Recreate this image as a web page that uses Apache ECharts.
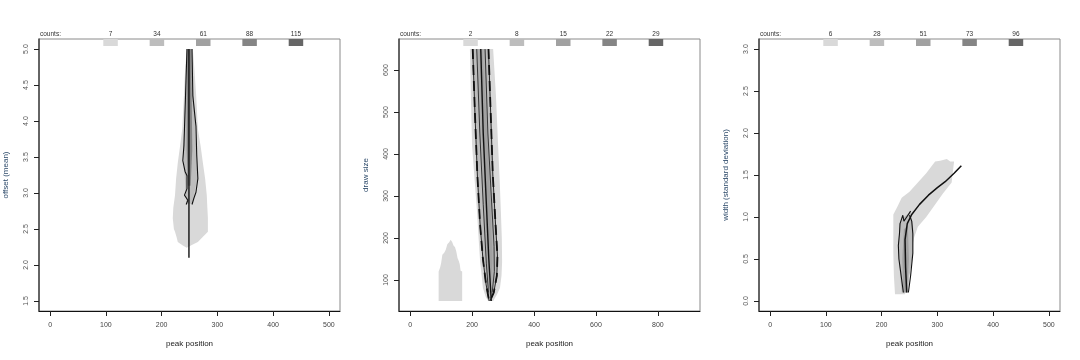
<!DOCTYPE html>
<html><head><meta charset="utf-8">
<script src="https://cdn.jsdelivr.net/npm/echarts@6/dist/echarts.min.js"></script>
<style>html,body{margin:0;padding:0;background:#fff}#c{width:1080px;height:360px}</style>
</head><body><div id="c"></div>
<script>
// ---- legend counts ----
const counts1 = [7, 34, 61, 88, 115];
const counts2 = [2, 8, 15, 22, 29];
const counts3 = [6, 28, 51, 73, 96];
const countColors = ['#d9d9d9', '#bdbdbd', '#a1a1a1', '#858585', '#666666'];

// ---- tick labels ----
const xTicks1 = [0, 100, 200, 300, 400, 500];
const yTicks1 = [1.5, 2.0, 2.5, 3.0, 3.5, 4.0, 4.5, 5.0];
const xTicks2 = [0, 200, 400, 600, 800];
const yTicks2 = [100, 200, 300, 400, 500, 600];
const xTicks3 = [0, 100, 200, 300, 400, 500];
const yTicks3 = [0.0, 0.5, 1.0, 1.5, 2.0, 2.5, 3.0];

// ---- panel 1: offset (mean) vs peak position ----
const p1Light = [[245,5.0],[242,4.7],[240,4.35],[237,3.89],[233,3.65],[229,3.42],[226,3.2],[224,2.97],[221,2.8],[220,2.65],[222,2.5],[224,2.46],[227,2.38],[229,2.32],[238,2.27],[245,2.24],[255,2.28],[265,2.32],[275,2.4],[283,2.46],[283,2.65],[282,2.8],[281,2.97],[278,3.2],[274,3.42],[270,3.65],[265,3.89],[262,4.35],[259,4.7],[256,5.0]];
const p1Mid = [[245,5.0],[243,4.5],[241,4.0],[239,3.6],[241,3.3],[243,3.0],[245,2.85],[254,2.85],[259,3.0],[264,3.2],[262,3.6],[260,4.0],[256,4.5],[254,5.0]];
const p1Dark = [[246,5.0],[245,4.3],[245,3.6],[247,3.1],[252,3.1],[255,3.6],[254,4.3],[253,5.0]];
const p1Center = [[249,5.0],[249,4.0],[249,3.0],[249,2.1]];
const p1Left = [[245.5,5.0],[243.7,4.56],[242,4.14],[240,3.66],[238,3.45],[242,3.3],[245.5,3.24],[245.5,3.06],[241,2.97],[247,2.9],[244,2.84]];
const p1Right = [[254.5,5.0],[256,4.35],[261.6,3.93],[263,3.52],[265,3.2],[261.6,3.01],[258,2.93],[254.5,2.84]];

// ---- panel 2: draw size vs peak position ----
const p2Light = [[193,650],[196,540],[200,420],[208,340],[216,262],[221,200],[226,143],[231,110],[235,81],[244,60],[252,50],[268,50],[280,65],[290,81],[295,110],[297,143],[296,200],[293,262],[289,340],[284,421],[277,540],[268,650]];
const p2Mid = [[202,650],[209,500],[217,350],[226,230],[235,150],[245,90],[255,50],[258,50],[270,70],[280,110],[282,157],[276,230],[267,350],[260,500],[253,650]];
const p2Dark = [[215,650],[225,450],[236,280],[246,140],[253,70],[262,60],[272,120],[271,180],[262,300],[251,450],[242,650]];
const p2Core = [[224,650],[232,450],[241,300],[250,150],[258,60],[266,150],[258,300],[249,450],[233,650]];
const p2Blob = [[92,50],[92,120],[97,130],[100,140],[104,160],[110,165],[115,172],[120,185],[126,190],[131,196],[136,190],[140,182],[145,178],[149,168],[153,152],[157,145],[160,138],[163,122],[168,120],[168,50]];
const p2Center = [[228,650],[236,450],[245,300],[254,150],[262,50]];
const p2LeftOuter = [[202,650],[209,500],[217,350],[226,230],[235,150],[245,90],[255,50]];
const p2RightOuter = [[253,650],[260,500],[267,350],[276,230],[282,157],[280,110],[270,70],[258,50]];
const p2LeftInner = [[215,650],[225,450],[236,280],[246,140],[253,70]];
const p2RightInner = [[242,650],[251,450],[262,300],[271,180],[272,120],[265,70]];

// ---- panel 3: width (sd) vs peak position ----
const p3Light = [[224,0.08],[222,0.3],[221,0.57],[221,0.8],[221,1.03],[228,1.12],[236,1.23],[250,1.3],[265,1.41],[280,1.52],[296,1.66],[305,1.67],[317,1.69],[323,1.66],[330,1.66],[328,1.55],[325.6,1.41],[310,1.28],[296,1.15],[280,1.0],[265,0.885],[258,0.75],[254,0.61],[250,0.45],[247,0.26],[242,0.08]];
const p3Mid = [[236,0.1],[232,0.4],[230,0.66],[232,0.92],[240,1.0],[252,1.06],[257,0.85],[256,0.55],[250,0.3],[247,0.1]];
const p3Dark = [[239,0.1],[237,0.5],[240,0.85],[247,0.9],[249,0.5],[246,0.1]];
const p3Mean = [[245,0.1],[243,0.4],[242,0.73],[246,0.92],[254,1.03],[268,1.15],[284,1.26],[300,1.35],[314,1.42],[330,1.52],[343,1.61]];
const p3Left = [[239,0.1],[234,0.35],[231,0.5],[230,0.66],[232,0.8],[233,0.92],[236,0.98],[238,1.02],[240,0.95],[242,0.94],[245,1.0],[248,1.02],[252,1.07]];
const p3Right = [[250,1.02],[254,0.95],[256,0.8],[256,0.57],[252,0.3],[248,0.1]];

// ---- layout ----
const grids = [39, 399, 759];
const gridTop = 39, gridW = 301, gridH = 272;
const font = 'Liberation Sans, Arial, Helvetica, sans-serif';

function poly(i, pts, color) {
  return {
    type: 'custom', xAxisIndex: i, yAxisIndex: i, silent: true, clip: true,
    data: [0],
    renderItem: (params, api) => ({
      type: 'polygon',
      shape: { points: pts.map(p => api.coord(p)) },
      style: { fill: color, stroke: null }
    })
  };
}
function line(i, pts, w, dash) {
  return {
    type: 'line', xAxisIndex: i, yAxisIndex: i, data: pts, showSymbol: false, silent: true,
    lineStyle: { color: '#111', width: w || 1.3, type: dash || 'solid' }, smooth: false, clip: true, z: 5
  };
}
function xAxis(i, min, max, ticks) {
  return {
    type: 'value', gridIndex: i, min, max,
    name: 'peak position', nameLocation: 'middle', nameGap: 29,
    nameTextStyle: { fontSize: 8, color: '#222', fontFamily: font },
    axisLine: { show: true, onZero: false, lineStyle: { color: '#111', width: 1 } },
    axisTick: { show: true, customValues: ticks, length: 5, lineStyle: { color: '#222' } },
    axisLabel: { customValues: ticks, fontSize: 7, color: '#444', margin: 11, fontFamily: font },
    splitLine: { show: false }
  };
}
function yAxis(i, min, max, ticks, name, dec) {
  return {
    type: 'value', gridIndex: i, min, max,
    name, nameLocation: 'middle', nameGap: 29,
    nameTextStyle: { fontSize: 8, color: '#2d4a6a', fontFamily: font },
    axisLine: { show: true, onZero: false, lineStyle: { color: '#444', width: 1.5 } },
    axisTick: { show: true, customValues: ticks, length: 5, lineStyle: { color: '#222' } },
    axisLabel: { customValues: ticks, fontSize: 7, color: '#555', margin: 9, rotate: 90, fontFamily: font,
      formatter: v => dec ? Number(v).toFixed(1) : String(v) },
    splitLine: { show: false }
  };
}

const graphics = [];
[counts1, counts2, counts3].forEach((cs, p) => {
  const L = grids[p];
  graphics.push({ type: 'text', left: L + 1, top: 31, style: { text: 'counts:', fontSize: 6.5, fill: '#333', fontFamily: font }, z: 20 });
  cs.forEach((c, k) => {
    const bx = L + 64.3 + k * 46.35;
    graphics.push({ type: 'rect', shape: { x: bx, y: 39, width: 14.5, height: 7 }, style: { fill: countColors[k] }, z: 20 });
    graphics.push({ type: 'text', x: bx + 7.25, y: 34.5, style: { text: String(c), fontSize: 6.5, fill: '#333', align: 'center', verticalAlign: 'middle', fontFamily: font }, z: 20 });
  });
});

const option = {
  animation: false,
  backgroundColor: '#fff',
  grid: grids.map(L => ({ left: L, top: gridTop, width: gridW, height: gridH, show: true, borderColor: '#8a8a8a', borderWidth: 1, containLabel: false })),
  xAxis: [xAxis(0, -20, 520, xTicks1), xAxis(1, -36, 936, xTicks2), xAxis(2, -20, 520, xTicks3)],
  yAxis: [
    yAxis(0, 1.36, 5.14, yTicks1, 'offset (mean)', true),
    yAxis(1, 26, 674, yTicks2, 'draw size', false),
    yAxis(2, -0.12, 3.12, yTicks3, 'width (standard deviation)', true)
  ],
  graphic: graphics,
  series: [
    poly(0, p1Light, countColors[0]), poly(0, p1Mid, countColors[1]), poly(0, p1Dark, countColors[3]),
    line(0, p1Center, 1.4), line(0, p1Left, 1.1), line(0, p1Right, 1.1),
    poly(1, p2Blob, countColors[0]),
    poly(1, p2Light, countColors[0]), poly(1, p2Mid, countColors[1]), poly(1, p2Dark, '#aeaeae'), poly(1, p2Core, countColors[2]),
    line(1, p2Center, 1.4), line(1, p2LeftOuter, 0.9), line(1, p2RightOuter, 0.9),
    line(1, p2LeftOuter, 1.8, [10, 6]), line(1, p2RightOuter, 1.8, [10, 6]),
    line(1, p2LeftInner, 0.8), line(1, p2RightInner, 0.8),
    poly(2, p3Light, countColors[0]), poly(2, p3Mid, countColors[1]), poly(2, p3Dark, countColors[2]),
    line(2, p3Mean, 1.5), line(2, p3Left, 1.1), line(2, p3Right, 1.1)
  ]
};
const chart = echarts.init(document.getElementById('c'), null, { renderer: 'canvas' });
chart.setOption(option);
</script></body></html>
